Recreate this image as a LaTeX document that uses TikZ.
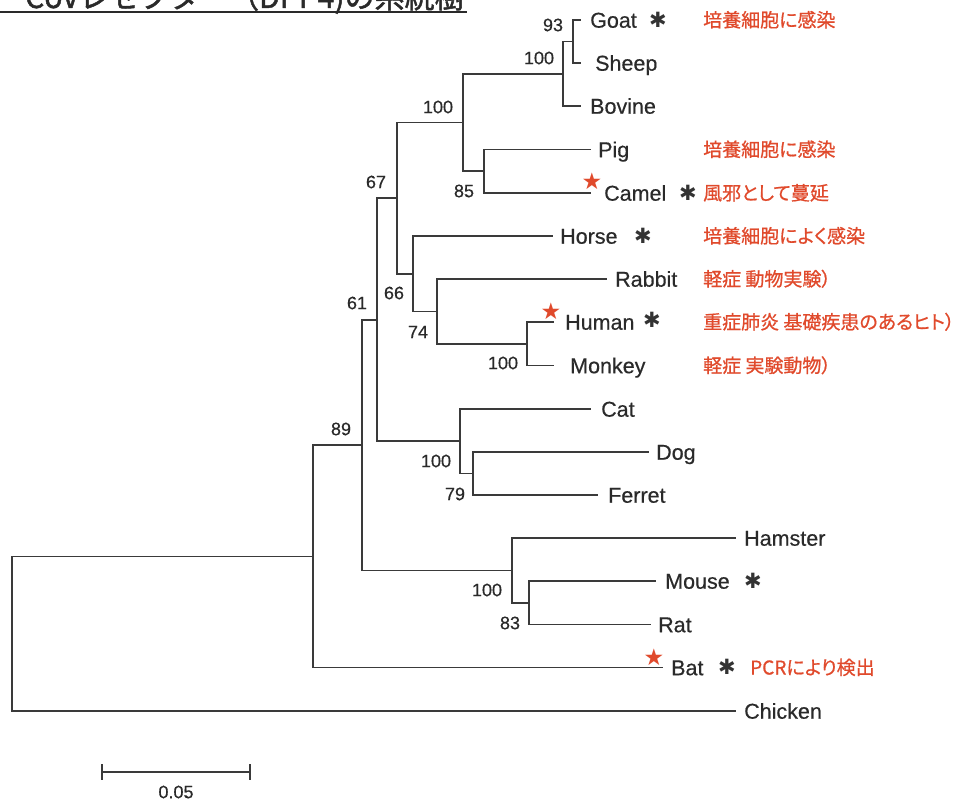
\documentclass[tikz,border=0pt]{standalone}
\usepackage{fontspec}
\setmainfont{Liberation Sans}
\newfontfamily\lblfont[FakeBold=0.5]{Liberation Sans}
\newfontfamily\jpfont[RawFeature=+palt,FakeBold=0.8]{Noto Sans CJK JP}
\newfontfamily\jptitle[FakeBold=1.5]{Noto Sans CJK JP}
\newfontfamily\symfont{DejaVu Sans}
\definecolor{treecol}{HTML}{3A3A3A}
\definecolor{txtcol}{HTML}{2A2A2A}
\definecolor{astcol}{HTML}{333333}
\definecolor{redcol}{HTML}{E04A2C}
\begin{document}
\begin{tikzpicture}[x=1pt,y=-1pt,
  br/.style={draw=treecol, line width=1.6pt, line cap=rect},
  leaf/.style={anchor=base west, inner sep=0pt, font=\lblfont\fontsize{21.5}{24}\selectfont, text=txtcol},
  boot/.style={anchor=center, inner sep=0pt, font=\lblfont\fontsize{18}{20}\selectfont, text=txtcol},
  ast/.style={anchor=center, inner sep=0pt, font=\symfont\fontsize{21}{24}\selectfont, text=astcol},
  rstar/.style={anchor=center, inner sep=0pt, font=\symfont\fontsize{23}{25}\selectfont, text=redcol},
  note/.style={anchor=base west, inner sep=0pt, font=\jpfont\fontsize{19}{22}\selectfont, text=redcol},
  ttl/.style={anchor=base west, inner sep=0pt, font=\jptitle\fontsize{30}{32}\selectfont, text=txtcol}
]
\useasboundingbox (0,0) rectangle (967,803);
\clip (0,0) rectangle (967,803);

% title (cut off at the top)
\node[ttl] (title) at (25,8) {CoVレセプター（DPP4)の系統樹};
\coordinate (ulL) at (0,12);
\coordinate (ulR) at (467,12);
\draw[draw=txtcol, line width=2pt] (ulL) -- (ulR);

% leaf tips
\coordinate (tgoat) at (580,20);
\coordinate (tsheep) at (580,63);
\coordinate (tbovine) at (580,106);
\coordinate (tpig) at (590,149.5);
\coordinate (tcamel) at (590,193);
\coordinate (thorse) at (552,236);
\coordinate (trabbit) at (606,279);
\coordinate (thuman) at (553,322);
\coordinate (tmonkey) at (553,365.5);
\coordinate (tcat) at (590,409);
\coordinate (tdog) at (648,452);
\coordinate (tferret) at (597,495);
\coordinate (thamster) at (735,538);
\coordinate (tmouse) at (655,581);
\coordinate (trat) at (650,624.5);
\coordinate (tbat) at (662,667.5);
\coordinate (tchicken) at (735,711);

% internal nodes
\coordinate (nGS) at (573,41.5);
\coordinate (nRum) at (563,74);
\coordinate (nPC) at (484,171.25);
\coordinate (nA) at (463,122.5);
\coordinate (nHM) at (527,343.75);
\coordinate (n74) at (437,311.4);
\coordinate (n66) at (413,273.7);
\coordinate (n67) at (397,198.1);
\coordinate (nDF) at (473,473.5);
\coordinate (nC) at (460,441.25);
\coordinate (n61) at (377,319.7);
\coordinate (nMR) at (529,602.75);
\coordinate (nRod) at (512,570.4);
\coordinate (n89) at (362,445);
\coordinate (nBat) at (313,556.3);
\coordinate (root) at (12,633.6);

% branches
\draw[br] (nGS) |- (tgoat);
\draw[br] (nGS) |- (tsheep);
\draw[br] (nRum) |- (nGS);
\draw[br] (nRum) |- (tbovine);
\draw[br] (nPC) |- (tpig);
\draw[br] (nPC) |- (tcamel);
\draw[br] (nA) |- (nRum);
\draw[br] (nA) |- (nPC);
\draw[br] (nHM) |- (thuman);
\draw[br] (nHM) |- (tmonkey);
\draw[br] (n74) |- (trabbit);
\draw[br] (n74) |- (nHM);
\draw[br] (n66) |- (thorse);
\draw[br] (n66) |- (n74);
\draw[br] (n67) |- (nA);
\draw[br] (n67) |- (n66);
\draw[br] (nDF) |- (tdog);
\draw[br] (nDF) |- (tferret);
\draw[br] (nC) |- (tcat);
\draw[br] (nC) |- (nDF);
\draw[br] (n61) |- (n67);
\draw[br] (n61) |- (nC);
\draw[br] (nMR) |- (tmouse);
\draw[br] (nMR) |- (trat);
\draw[br] (nRod) |- (thamster);
\draw[br] (nRod) |- (nMR);
\draw[br] (n89) |- (n61);
\draw[br] (n89) |- (nRod);
\draw[br] (nBat) |- (n89);
\draw[br] (nBat) |- (tbat);
\draw[br] (root) |- (nBat);
\draw[br] (root) |- (tchicken);

% leaf labels
\node[leaf] (goat) at (590,27.7) {Goat};
\node[leaf] (sheep) at (595,70.7) {Sheep};
\node[leaf] (bovine) at (590,113.7) {Bovine};
\node[leaf] (pig) at (598,157.2) {Pig};
\node[leaf] (camel) at (604,200.7) {Camel};
\node[leaf] (horse) at (560,243.7) {Horse};
\node[leaf] (rabbit) at (615,286.7) {Rabbit};
\node[leaf] (human) at (565,329.7) {Human};
\node[leaf] (monkey) at (570,373.2) {Monkey};
\node[leaf] (cat) at (601,416.7) {Cat};
\node[leaf] (dog) at (656,459.7) {Dog};
\node[leaf] (ferret) at (608,502.7) {Ferret};
\node[leaf] (hamster) at (744,545.7) {Hamster};
\node[leaf] (mouse) at (665,588.7) {Mouse};
\node[leaf] (rat) at (658,632.2) {Rat};
\node[leaf] (bat) at (671,675.2) {Bat};
\node[leaf] (chicken) at (744,718.7) {Chicken};

% bootstrap values
\node[boot] (b93) at (553,25) {93};
\node[boot] (b100a) at (539,58) {100};
\node[boot] (b100b) at (438,107) {100};
\node[boot] (b85) at (464,191) {85};
\node[boot] (b67) at (376,182) {67};
\node[boot] (b66) at (394,293) {66};
\node[boot] (b61) at (357,303) {61};
\node[boot] (b74) at (418,332) {74};
\node[boot] (b100c) at (503,363) {100};
\node[boot] (b89) at (341,429) {89};
\node[boot] (b100d) at (436,461) {100};
\node[boot] (b79) at (455,494) {79};
\node[boot] (b100e) at (487,590) {100};
\node[boot] (b83) at (510,623) {83};

% asterisks
\node[ast] (agoat) at (658,20) {✱};
\node[ast] (acamel) at (688,193) {✱};
\node[ast] (ahorse) at (643,236) {✱};
\node[ast] (ahuman) at (652,320) {✱};
\node[ast] (amouse) at (753,581) {✱};
\node[ast] (abat) at (727,667) {✱};

% red stars
\node[rstar] (scamel) at (592,181) {★};
\node[rstar] (shuman) at (551,311) {★};
\node[rstar] (sbat) at (654,657) {★};

% notes
\node[note] (ngoat) at (703,27) {培養細胞に感染};
\node[note] (npig) at (703,156.5) {培養細胞に感染};
\node[note] (ncamel) at (703,200) {風邪として蔓延};
\node[note] (nhorse) at (703,243) {培養細胞によく感染};
\node[note] (nrabbit) at (703,286) {軽症 動物実験）};
\node[note] (nhuman) at (703,329) {重症肺炎 基礎疾患のあるヒト）};
\node[note] (nmonkey) at (703,372.5) {軽症 実験動物）};
\node[note] (nbat) at (750,674.5) {PCRにより検出};

% scale bar
\coordinate (sbL) at (102,772);
\coordinate (sbR) at (250,772);
\draw[br, line cap=butt] (sbL) -- (sbR);
\draw[br, line cap=butt] ([yshift=8pt]sbL) -- ([yshift=-8pt]sbL);
\draw[br, line cap=butt] ([yshift=8pt]sbR) -- ([yshift=-8pt]sbR);
\node[boot] (sblabel) at (176,792) {0.05};
\end{tikzpicture}
\end{document}
